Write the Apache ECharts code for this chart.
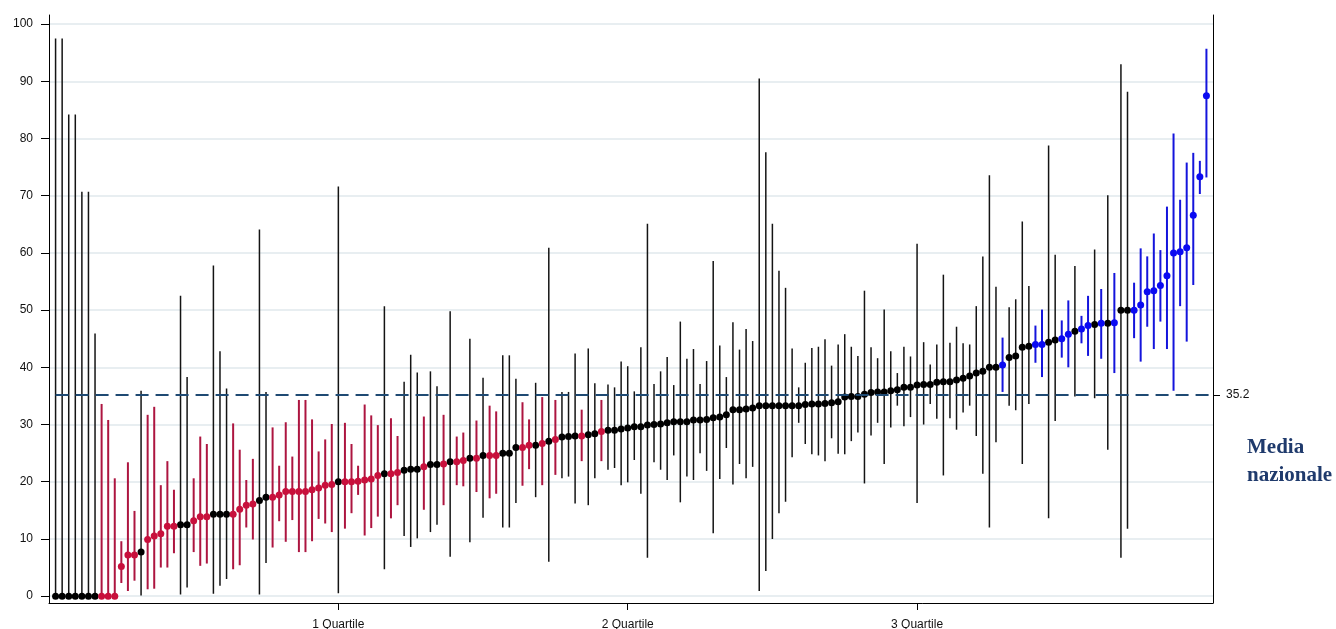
<!DOCTYPE html>
<html>
<head>
<meta charset="utf-8">
<title>Media nazionale</title>
<script src="https://cdn.jsdelivr.net/npm/echarts@6/dist/echarts.min.js"></script>
<style>
html, body { margin: 0; padding: 0; background: #fff; }
#chart { width: 1336px; height: 629px; }
</style>
</head>
<body>
<div id="chart"></div>
<script>
// stime ordinate (valore, limite inferiore, limite superiore)
var est = [0, 0, 0, 0, 0, 0, 0, 0, 0, 0,
	5.2, 7.2, 7.2, 7.7, 9.9, 10.5, 10.9, 12.2, 12.2, 12.5,
	12.5, 13.2, 13.9, 13.9, 14.3, 14.3, 14.3, 14.3, 15.2, 15.9,
	16.1, 16.7, 17.3, 17.3, 17.7, 18.3, 18.3, 18.3, 18.3, 18.6,
	18.9, 19.4, 19.5, 20.0, 20.0, 20.0, 20.1, 20.3, 20.5, 21.1,
	21.4, 21.4, 21.6, 22.0, 22.2, 22.2, 22.6, 23.0, 23.0, 23.1,
	23.5, 23.5, 23.7, 24.1, 24.1, 24.6, 24.6, 24.6, 25.0, 25.0,
	26.0, 26.0, 26.4, 26.4, 26.7, 27.1, 27.4, 27.8, 27.9, 28.0,
	28.0, 28.2, 28.4, 28.8, 29.0, 29.0, 29.2, 29.4, 29.6, 29.6,
	29.9, 30.0, 30.1, 30.3, 30.5, 30.5, 30.5, 30.8, 30.8, 30.9,
	31.2, 31.3, 31.7, 32.6, 32.6, 32.7, 32.9, 33.3, 33.3, 33.3,
	33.3, 33.3, 33.3, 33.3, 33.5, 33.6, 33.6, 33.7, 33.8, 34.0,
	34.8, 34.9, 34.9, 35.3, 35.6, 35.7, 35.7, 35.9, 36.1, 36.5,
	36.5, 36.9, 37.0, 37.0, 37.4, 37.5, 37.5, 37.8, 38.1, 38.5,
	39.0, 39.3, 40.0, 40.0, 40.4, 41.7, 42.0, 43.5, 43.7, 44.0,
	44.0, 44.4, 44.8, 45.0, 45.8, 46.3, 46.7, 47.3, 47.5, 47.7,
	47.7, 47.8, 50.0, 50.0, 50.0, 50.9, 53.2, 53.4, 54.3, 56.0,
	60.0, 60.2, 60.9, 66.6, 73.3, 87.5];
var lo = [0, 0, 0, 0, 0, 0, 0, 0, 0, 0,
	2.3, 0.9, 2.7, 0.1, 1.2, 1.3, 5.0, 5.0, 7.5, 0.3,
	1.5, 7.7, 5.3, 5.7, 0.4, 1.8, 3.0, 4.7, 5.4, 12.0,
	9.9, 0.3, 5.8, 8.5, 13.1, 9.5, 13.3, 7.7, 7.7, 9.6,
	13.5, 12.7, 11.2, 0.5, 11.8, 14.5, 17.7, 10.6, 11.9, 13.9,
	4.7, 13.6, 15.9, 10.5, 8.6, 10.1, 15.1, 11.2, 12.5, 15.9,
	6.9, 19.4, 19.2, 9.4, 18.2, 13.7, 17.1, 17.9, 12.0, 12.0,
	16.3, 19.3, 22.2, 17.3, 19.4, 6.0, 21.2, 20.6, 20.9, 16.2,
	23.6, 15.9, 20.6, 23.6, 22.1, 22.4, 19.4, 19.9, 23.8, 17.9,
	6.7, 23.4, 22.1, 20.3, 24.6, 16.4, 20.9, 20.3, 25.0, 21.9,
	11.0, 20.5, 25.9, 19.5, 23.1, 20.6, 22.6, 0.9, 4.4, 10.0,
	14.5, 16.5, 24.3, 30.3, 26.6, 24.8, 24.6, 23.6, 27.6, 24.9,
	24.8, 27.1, 28.6, 19.7, 28.1, 30.3, 23.1, 29.5, 33.3, 29.7,
	31.3, 16.3, 30.0, 33.6, 31.0, 21.1, 31.1, 29.1, 32.1, 33.3,
	28.0, 21.4, 12.0, 26.9, 35.7, 33.3, 32.5, 23.1, 33.6, 40.8,
	38.3, 13.6, 30.6, 41.7, 40.0, 34.9, 44.2, 42.0, 34.6, 41.5,
	25.6, 39.0, 6.7, 11.8, 45.1, 41.0, 47.1, 43.2, 48.0, 43.2,
	35.9, 50.7, 44.5, 54.4, 70.3, 73.2];
var hi = [97.5, 97.5, 84.2, 84.2, 70.7, 70.7, 45.9, 33.6, 30.8, 20.6,
	9.6, 23.4, 14.9, 35.9, 31.7, 33.1, 19.4, 23.6, 18.6, 52.5,
	38.3, 20.6, 27.9, 26.6, 57.8, 42.8, 36.3, 30.2, 25.6, 20.3,
	24.0, 64.1, 35.7, 29.5, 22.8, 30.4, 24.4, 34.3, 34.3, 30.9,
	25.3, 27.4, 30.1, 71.6, 30.3, 26.6, 22.8, 33.5, 31.6, 29.9,
	50.7, 31.1, 28.0, 37.5, 42.2, 39.1, 31.4, 39.3, 36.7, 31.7,
	49.8, 27.9, 28.6, 45.0, 30.7, 38.2, 33.3, 32.3, 42.1, 42.1,
	38.0, 33.9, 30.9, 37.3, 34.8, 60.9, 34.3, 35.7, 35.7, 42.4,
	32.6, 43.3, 37.2, 34.3, 37.0, 36.5, 41.0, 40.2, 35.8, 43.5,
	65.1, 37.1, 39.3, 41.8, 36.9, 48.0, 41.5, 43.2, 37.1, 41.1,
	58.6, 43.8, 38.3, 47.9, 43.1, 46.7, 44.6, 90.5, 77.6, 65.1,
	56.9, 53.9, 43.3, 36.5, 40.8, 43.4, 43.6, 44.9, 40.3, 44.0,
	45.8, 43.6, 42.0, 53.4, 43.5, 41.6, 50.1, 42.8, 39.0, 43.6,
	41.9, 61.6, 44.4, 40.5, 44.0, 56.2, 44.3, 47.1, 44.2, 44.0,
	50.7, 59.4, 73.6, 54.1, 45.2, 50.5, 51.9, 65.5, 54.2, 47.3,
	50.1, 78.8, 59.7, 48.2, 51.7, 57.7, 49.0, 52.5, 60.6, 53.7,
	70.1, 56.5, 93.0, 88.2, 54.8, 60.8, 59.4, 63.4, 60.5, 68.1,
	80.9, 69.3, 75.8, 77.5, 76.1, 95.7];
// r = sotto la media, n = non significativo, b = sopra la media
var grp = ('nnnnnnnrrr' + 'rrrnrrrrrn' + 'nrrrnnnrrr' + 'rnnrrrrrrr' + 'rrrnrrrrrr' +
	'nrrnnnrnnr' + 'nrrnrnrrnn' + 'nrrnrnrnnn' + 'rnnrnnnnnn' + 'nnnnnnnnnn' +
	'nnnnnnnnnn' + 'nnnnnnnnnn' + 'nnnnnnnnnn' + 'nnnnnnnnnn' + 'nnnnbnnnnb' +
	'bnnbbnbbnb' + 'nbnnbbbbbb' + 'bbbbbb').split('');

var media = 35.2;
var yTicks = [0, 10, 20, 30, 40, 50, 60, 70, 80, 90, 100];
var quartLabels = ['1 Quartile', '2 Quartile', '3 Quartile'];

var N = est.length;
var quartPos = [];
for (var q = 1; q <= 3; q++) {
	quartPos.push(N * q / 4);
}

var colori = {
	r: { dot: '#c8103c', bar: '#ad1540', w: 2 },
	n: { dot: '#000000', bar: '#141414', w: 1.5 },
	b: { dot: '#0a0af2', bar: '#1414dc', w: 2 }
};

// segmento verticale dell'intervallo di confidenza
function renderBar(params, api) {
	var a = api.coord([api.value(0), api.value(1)]);
	var b = api.coord([api.value(0), api.value(2)]);
	return {
		type: 'line',
		shape: { x1: a[0], y1: a[1], x2: b[0], y2: b[1] },
		style: { stroke: api.visual('color'), lineWidth: api.value(3) }
	};
}

function buildSeries() {
	var bars = [], dots = [];
	['n', 'r', 'b'].forEach(function (k) {
		var barData = [], dotData = [];
		for (var i = 0; i < N; i++) {
			if (grp[i] != k) continue;
			barData.push([i + 1, lo[i], hi[i], colori[k].w]);
			dotData.push([i + 1, est[i]]);
		}
		bars.push({
			type: 'custom',
			renderItem: renderBar,
			itemStyle: { color: colori[k].bar },
			encode: { x: 0, y: [1, 2] },
			data: barData,
			z: 2,
			silent: true
		});
		dots.push({
			type: 'scatter',
			symbol: 'circle',
			symbolSize: 7,
			itemStyle: { color: colori[k].dot, opacity: 1 },
			data: dotData,
			z: 4,
			silent: true
		});
	});
	// linea della media nazionale
	dots.push({
		type: 'line',
		data: [],
		silent: true,
		markLine: {
			symbol: ['none', 'none'],
			silent: true,
			label: { show: false },
			lineStyle: { color: '#1f4a73', width: 2, type: [13, 7] },
			data: [[{ coord: [1, media] }, { coord: [N + 1, media] }]]
		},
		z: 3
	});
	return bars.concat(dots);
}

var chart = echarts.init(document.getElementById('chart'));
var axisFont = { color: '#111', fontSize: 12, fontFamily: 'Liberation Sans, Arial, sans-serif' };

chart.setOption({
	animation: false,
	backgroundColor: '#fff',
	grid: { left: 49, right: 123, top: 15, bottom: 26, outerBoundsMode: 'none', containLabel: false },
	xAxis: {
		type: 'value',
		min: 0,
		max: N + 1,
		axisLine: { onZero: false, lineStyle: { color: '#000', width: 1 } },
		axisTick: { customValues: quartPos, length: 7, lineStyle: { color: '#000' } },
		axisLabel: {
			customValues: quartPos,
			margin: 16,
			color: axisFont.color,
			fontSize: axisFont.fontSize,
			fontFamily: axisFont.fontFamily,
			formatter: function (v) {
				var k = quartPos.indexOf(v);
				return k >= 0 ? quartLabels[k] : '';
			}
		},
		splitLine: { show: false }
	},
	yAxis: [{
		type: 'value',
		min: -1.2,
		max: 101.6,
		axisLine: { show: true, onZero: false, lineStyle: { color: '#000', width: 1 } },
		axisTick: { show: true, customValues: yTicks, length: 8, lineStyle: { color: '#000' } },
		axisLabel: {
			customValues: yTicks,
			margin: 16,
			color: axisFont.color,
			fontSize: axisFont.fontSize,
			fontFamily: axisFont.fontFamily
		},
		splitLine: { show: true, lineStyle: { color: '#e8eef1', width: 2 } }
	}, {
		type: 'value',
		position: 'right',
		min: -1.2,
		max: 101.6,
		axisLine: { show: true, onZero: false, lineStyle: { color: '#000', width: 1 } },
		axisTick: { show: true, customValues: [media], length: 7, lineStyle: { color: '#000' } },
		axisLabel: {
			customValues: [media],
			margin: 13,
			color: axisFont.color,
			fontSize: axisFont.fontSize,
			fontFamily: axisFont.fontFamily,
			formatter: function (v) { return v.toFixed(1); }
		},
		splitLine: { show: false }
	}],
	graphic: [{
		type: 'text',
		left: 1247,
		top: 434,
		style: {
			text: 'Media\nnazionale',
			font: 'bold 21px "Liberation Serif", "Times New Roman", serif',
			lineHeight: 28,
			fill: '#1f3a6c'
		}
	}],
	series: buildSeries()
});
</script>
</body>
</html>
